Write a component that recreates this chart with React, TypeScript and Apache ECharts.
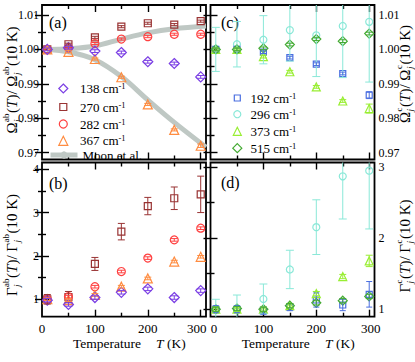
import React, { useEffect, useRef } from 'react';
import * as echarts from 'echarts';

const SERIF = 'Liberation Serif';

// ---------- axes / ticks ----------
const TEMPS = [10, 50, 100, 150, 200, 250, 300];
const X_LABELS = [0, 100, 200, 300];
const X_MAJOR = [100, 200, 300];
const X_MINOR = [50, 150, 250];
const OMEGA_LABELS = [0.97, 0.98, 0.99, 1.0, 1.01];
const OMEGA_MINOR = [0.975, 0.985, 0.995, 1.005];
const GAB_LABELS = [1, 2, 3, 4];
const GAB_MINOR = [1.5, 2.5, 3.5];
const GC_LABELS = [1, 2, 3];
const GC_MINOR = [1.5, 2.5];

// ---------- panel (a): Omega_ab(T)/Omega_ab(10K) ----------
const a138 = [1.0, 1.0005, 0.9995, 0.9991, 0.9964, 0.9959, 0.992];
const a270 = [1.0, 1.0015, 1.0035, 1.0066, 1.0076, 1.0072, 1.0082];
const a282 = [1.0, 1.0004, 1.0017, 1.003, 1.0037, 1.0044, 1.0044];
const a367 = [1.0, 0.9993, 0.9972, 0.9919, 0.984, 0.9766, 0.972];
const a138Err = [0.0004, 0.0004, 0.0004, 0.0004, 0.0004, 0.0004, 0.0004];
const a270Err = [0.0003, 0.0003, 0.0003, 0.0003, 0.0003, 0.0003, 0.0003];
const a282Err = [0.0003, 0.0003, 0.0003, 0.0003, 0.0003, 0.0003, 0.0003];
const a367Err = [0.0003, 0.0003, 0.0003, 0.0003, 0.0003, 0.0003, 0.0005];
const MOON_T = [10, 50, 100, 150, 200, 250, 310];
const moonUpper = [1.0, 1.0002, 1.001, 1.003, 1.0048, 1.006, 1.0068];
const moonLower = [1.0, 0.9993, 0.997, 0.9921, 0.9853, 0.9788, 0.9716];

// ---------- panel (b): Gamma_ab(T)/Gamma_ab(10K) ----------
const b138 = [0.98, 0.88, 1.04, 1.16, 1.24, 1.04, 1.2];
const b270 = [1.0, 1.05, 1.815, 2.56, 3.15, 3.33, 3.42];
const b282 = [1.0, 1.06, 1.29, 1.64, 1.95, 2.37, 2.64];
const b367 = [1.0, 0.98, 1.1, 1.29, 1.48, 1.87, 1.98];
const b138Err = [0.04, 0.04, 0.04, 0.04, 0.04, 0.04, 0.04];
const b270Err = [0.11, 0.13, 0.15, 0.19, 0.2, 0.26, 0.42];
const b282Err = [0.03, 0.03, 0.03, 0.03, 0.03, 0.03, 0.03];
const b367Err = [0.03, 0.03, 0.03, 0.03, 0.03, 0.03, 0.03];

// ---------- panel (c): Omega_c(T)/Omega_c(10K) ----------
const c192 = [1.0, 1.0, 0.9992, 0.9976, 0.9957, 0.993, 0.9867];
const c296 = [1.0, 1.0015, 1.0028, 1.0056, 1.0041, 1.0068, 1.008];
const c373 = [1.0, 1.0, 0.9979, 0.9935, 0.9891, 0.985, 0.9828];
const c515 = [1.0, 1.0, 1.0003, 1.0014, 1.003, 1.0024, 1.0046];
const c192Err = [0.0004, 0.0004, 0.0004, 0.0004, 0.0004, 0.0004, 0.001];
const c296Err = [0.0064, 0.0066, 0.007, 0.009, 0.012, 0.015, 0.0175];
const c373Err = [0.0004, 0.0004, 0.0004, 0.0004, 0.0004, 0.0004, 0.0013];
const c515Err = [0.0004, 0.0004, 0.0004, 0.0004, 0.0004, 0.0004, 0.0004];

// ---------- panel (d): Gamma_c(T)/Gamma_c(10K) ----------
const d192 = [1.0, 1.0, 0.98, 1.03, 1.13, 1.06, 1.21];
const d296 = [1.0, 1.01, 1.145, 1.56, 2.155, 2.87, 2.95];
const d373 = [1.0, 1.0, 1.0, 1.05, 1.22, 1.46, 1.68];
const d515 = [1.0, 1.01, 1.0, 1.05, 1.09, 1.12, 1.18];
const d192Err = [0.05, 0.05, 0.05, 0.05, 0.1, 0.08, 0.18];
const d296Err = [0.14, 0.19, 0.21, 0.27, 0.385, 0.6, 0.82];
const d373Err = [0.03, 0.03, 0.03, 0.03, 0.03, 0.03, 0.08];
const d515Err = [0.03, 0.03, 0.03, 0.03, 0.03, 0.03, 0.03];

const C138 = '#7b3fe4';
const C270 = '#993333';
const C282 = '#ff4040';
const C367 = '#ff8c40';
const CMOON = '#bfc8c4';
const C192 = '#4a6ee0';
const C296 = '#8ae8d8';
const C373 = '#99ee33';
const C515 = '#44aa33';

const GRIDS = [
  { left: 42, top: 5, width: 164, height: 154.5 },
  { left: 42, top: 162.5, width: 164, height: 154.2 },
  { left: 210.5, top: 5, width: 164, height: 154.5 },
  { left: 210.5, top: 162.5, width: 164, height: 154.2 },
];
const Y_RANGES = [
  [0.968, 1.0129],
  [0.598, 4.155],
  [0.968, 1.0129],
  [0.895, 3.065],
];

const tickLine = { color: '#000', width: 1.4 };

function xAxesFor(gi: number, labels: boolean, rightPanel: boolean) {
  const base = {
    type: 'value', gridIndex: gi, min: 0, max: 310,
    splitLine: { show: false }, axisLine: { show: false },
  };
  const major = { show: true, inside: true, length: 7, customValues: X_MAJOR, lineStyle: tickLine };
  const minor = { show: true, inside: true, length: 4, customValues: X_MINOR, lineStyle: tickLine };
  const fmt = (v: number) => {
    const s = String(Math.round(v));
    if (!rightPanel && s === '300') return `{l|${s}}`;
    if (rightPanel && s === '0') return `{r|${s}}`;
    if (rightPanel && s === '300') return `{r2|${s}}`;
    return `{n|${s}}`;
  };
  const rs = { fontFamily: SERIF, fontSize: 13, color: '#000' };
  return [
    {
      ...base, position: 'bottom', axisTick: major,
      axisLabel: {
        show: labels, customValues: X_LABELS, margin: 5, fontSize: 13,
        fontFamily: SERIF, color: '#000', formatter: fmt,
        rich: {
          n: rs,
          l: { ...rs, padding: [0, 8, 0, 0] },
          r: { ...rs, padding: [0, 0, 0, 7] },
          r2: { ...rs, padding: [0, 0, 0, 3] },
        },
      },
    },
    { ...base, position: 'bottom', axisTick: minor, axisLabel: { show: false } },
    { ...base, position: 'top', axisTick: major, axisLabel: { show: false } },
    { ...base, position: 'top', axisTick: minor, axisLabel: { show: false } },
  ];
}

function yAxesFor(gi: number, labelVals: number[], minorVals: number[], side: 'left' | 'right', fmt: (v: number) => string) {
  const [min, max] = Y_RANGES[gi];
  const base = {
    type: 'value', gridIndex: gi, min, max,
    splitLine: { show: false }, axisLine: { show: false },
  };
  const major = { show: true, inside: true, length: 7, customValues: labelVals, lineStyle: tickLine };
  const minor = { show: true, inside: true, length: 4, customValues: minorVals, lineStyle: tickLine };
  const lab = {
    show: true, customValues: labelVals, margin: side === 'left' ? 3 : 4, fontSize: 12,
    fontFamily: SERIF, color: '#000', formatter: fmt,
  };
  return [
    { ...base, position: 'left', axisTick: major, axisLabel: side === 'left' ? lab : { show: false } },
    { ...base, position: 'left', axisTick: minor, axisLabel: { show: false } },
    { ...base, position: 'right', axisTick: major, axisLabel: side === 'right' ? lab : { show: false } },
    { ...base, position: 'right', axisTick: minor, axisLabel: { show: false } },
  ];
}

function scatter(gi: number, name: string, vals: number[], color: string, symbol: string, size: number) {
  return {
    type: 'scatter', name, xAxisIndex: gi * 4, yAxisIndex: gi * 4,
    data: TEMPS.map((t, i) => [t, vals[i]]),
    symbol, symbolSize: size, silent: true, z: 4,
    itemStyle: { color: 'rgba(255,255,255,0)', borderColor: color, borderWidth: 1.2, opacity: 1 },
  };
}

function errorBars(gi: number, vals: number[], errs: number[], color: string, cap: number) {
  return {
    type: 'custom', xAxisIndex: gi * 4, yAxisIndex: gi * 4, clip: true, silent: true, z: 5,
    data: TEMPS.map((t, i) => [t, vals[i], errs[i]]),
    encode: { x: 0, y: 1 },
    renderItem: (_p: any, api: any) => {
      const x = api.value(0), y = api.value(1), e = api.value(2);
      const p1 = api.coord([x, y + e]);
      const p2 = api.coord([x, y - e]);
      const h = cap / 2;
      const style = { stroke: color, lineWidth: 1, fill: 'none' };
      return {
        type: 'group',
        children: [
          { type: 'line', shape: { x1: p1[0], y1: p1[1], x2: p2[0], y2: p2[1] }, style },
          { type: 'line', shape: { x1: p1[0] - h, y1: p1[1], x2: p1[0] + h, y2: p1[1] }, style },
          { type: 'line', shape: { x1: p2[0] - h, y1: p2[1], x2: p2[0] + h, y2: p2[1] }, style },
        ],
      };
    },
  };
}

function moonLine(vals: number[]) {
  return {
    type: 'line', name: 'Moon et al.', xAxisIndex: 0, yAxisIndex: 0,
    data: MOON_T.map((t, i) => [t, vals[i]]),
    smooth: 0.35, symbol: 'none', silent: true, z: 2,
    itemStyle: { color: CMOON },
    lineStyle: { color: CMOON, width: 5 },
  };
}

function legendItem(name: string, cx: number, cy: number, size: number, textStart: number) {
  const left = cx - size / 2;
  const pad = Math.max(0, textStart - (left + size + 5));
  return {
    show: true, data: [name], left, top: cy - size / 2, padding: 0,
    itemWidth: size, itemHeight: size, selectedMode: false,
    itemStyle: { borderWidth: 1.2 },
    formatter: (n: string) => `{n|${n} cm}{s|-1}`,
    textStyle: {
      color: '#000', fontFamily: SERIF, fontSize: 13,
      rich: {
        n: { fontFamily: SERIF, fontSize: 13, color: '#000', lineHeight: 14, padding: [0, 0, 0, pad] },
        s: { fontFamily: SERIF, fontSize: 8.5, color: '#000', lineHeight: 8, verticalAlign: 'top' },
      },
    },
  };
}

// ---------- text helpers ----------
let measureCtx: CanvasRenderingContext2D | null = null;
function measure(text: string, size: number, italic = false) {
  if (!measureCtx) measureCtx = document.createElement('canvas').getContext('2d');
  measureCtx!.font = `${italic ? 'italic ' : ''}${size}px ${SERIF}`;
  return measureCtx!.measureText(text).width;
}

type Piece = { t: string; it?: boolean } | { sup: string; sub: string };

function rotatedLabel(pieces: Piece[], cx: number, cy: number, size: number, script: number) {
  const kids: any[] = [];
  let x = 0;
  const txt = (t: string, px: number, py: number, fs: number, it: boolean) => ({
    type: 'text', x: px, y: py,
    style: {
      text: t, fontSize: fs, fontFamily: SERIF, fontStyle: it ? 'italic' : 'normal', fill: '#000',
      textAlign: 'left', align: 'left', textVerticalAlign: 'middle', verticalAlign: 'middle',
    },
  });
  for (const p of pieces) {
    if ('t' in p) {
      kids.push(txt(p.t, x, 0, size, !!p.it));
      x += measure(p.t, size, !!p.it);
    } else {
      kids.push(txt(p.sup, x + 0.5, -size * 0.42, script, false));
      kids.push(txt(p.sub, x + 0.5, size * 0.34, script, true));
      x += Math.max(measure(p.sup, script), measure(p.sub, script, true)) + 1;
    }
  }
  const off = -x / 2;
  kids.forEach((k) => (k.x += off));
  return { type: 'group', x: cx, y: cy, rotation: Math.PI / 2, children: kids };
}

function plainText(t: string, left: number, cy: number, fs: number, italic = false) {
  return {
    type: 'text', x: left, y: cy,
    style: {
      text: t, fontSize: fs, fontFamily: SERIF, fontStyle: italic ? 'italic' : 'normal', fill: '#000',
      textAlign: 'left', align: 'left', textVerticalAlign: 'middle', verticalAlign: 'middle',
    },
  };
}

function tempTitle(left: number, tLeft: number, cy: number) {
  return [
    plainText('Temperature', left, cy, 13.5),
    plainText('T', tLeft, cy, 13.5, true),
    plainText(' (K)', tLeft + measure('T', 13.5, true), cy, 13.5),
  ];
}

export default function App() {
  const ref = useRef<HTMLDivElement>(null);
  useEffect(() => {
    if (!ref.current) return;
    const chart = echarts.init(ref.current, null, { renderer: 'svg' });
    const f2 = (v: number) => v.toFixed(2);
    const f0 = (v: number) => String(Math.round(v));

    const xAxis = [
      ...xAxesFor(0, false, false), ...xAxesFor(1, true, false),
      ...xAxesFor(2, false, true), ...xAxesFor(3, true, true),
    ];
    const yAxis = [
      ...yAxesFor(0, OMEGA_LABELS, OMEGA_MINOR, 'left', f2),
      ...yAxesFor(1, GAB_LABELS, GAB_MINOR, 'left', f0),
      ...yAxesFor(2, OMEGA_LABELS, OMEGA_MINOR, 'right', f2),
      ...yAxesFor(3, GC_LABELS, GC_MINOR, 'right', f0),
    ];

    const series: any[] = [
      moonLine(moonUpper), moonLine(moonLower),
      // (a)
      scatter(0, '270', a270, C270, 'rect', 7), errorBars(0, a270, a270Err, C270, 7),
      scatter(0, '282', a282, C282, 'circle', 8), errorBars(0, a282, a282Err, C282, 7),
      scatter(0, '367', a367, C367, 'triangle', 9), errorBars(0, a367, a367Err, C367, 7),
      scatter(0, '138', a138, C138, 'diamond', 10), errorBars(0, a138, a138Err, C138, 8),
      // (b)
      scatter(1, 'b270', b270, C270, 'rect', 7), errorBars(1, b270, b270Err, C270, 7),
      scatter(1, 'b282', b282, C282, 'circle', 8), errorBars(1, b282, b282Err, C282, 7),
      scatter(1, 'b367', b367, C367, 'triangle', 9), errorBars(1, b367, b367Err, C367, 7),
      scatter(1, 'b138', b138, C138, 'diamond', 10), errorBars(1, b138, b138Err, C138, 8),
      // (c)
      scatter(2, '296', c296, C296, 'circle', 7), errorBars(2, c296, c296Err, C296, 8),
      scatter(2, '192', c192, C192, 'rect', 6), errorBars(2, c192, c192Err, C192, 6),
      scatter(2, '373', c373, C373, 'triangle', 8), errorBars(2, c373, c373Err, C373, 7),
      scatter(2, '515', c515, C515, 'diamond', 9), errorBars(2, c515, c515Err, C515, 7),
      // (d)
      scatter(3, 'd296', d296, C296, 'circle', 7), errorBars(3, d296, d296Err, C296, 8),
      scatter(3, 'd192', d192, C192, 'rect', 6), errorBars(3, d192, d192Err, C192, 6),
      scatter(3, 'd373', d373, C373, 'triangle', 8), errorBars(3, d373, d373Err, C373, 7),
      scatter(3, 'd515', d515, C515, 'diamond', 9), errorBars(3, d515, d515Err, C515, 7),
    ];

    const legend: any[] = [
      legendItem('138', 62.7, 86, 9, 79.3),
      legendItem('270', 62.7, 103.5, 7, 79.3),
      legendItem('282', 62.7, 121, 8, 79.3),
      legendItem('367', 62.7, 138.3, 9, 79.3),
      {
        show: true, data: ['Moon et al.'], left: 48, top: 153 - 4.5, padding: 0,
        itemWidth: 27, itemHeight: 9, selectedMode: false,
        lineStyle: { width: 5, color: CMOON },
        textStyle: { color: '#000', fontFamily: SERIF, fontSize: 13, lineHeight: 13 },
      },
      legendItem('192', 236.7, 94, 6, 250),
      legendItem('296', 236.7, 110.7, 7, 250),
      legendItem('373', 236.7, 128.3, 8, 250),
      legendItem('515', 236.7, 145.7, 9, 250),
    ];

    const graphic: any[] = [
      plainText('(a)', 49, 22, 16),
      plainText('(b)', 49, 183, 16),
      plainText('(c)', 221, 22, 16),
      plainText('(d)', 221, 182, 16),
      ...tempTitle(73, 156, 343),
      ...tempTitle(241.7, 325, 343),
      rotatedLabel(
        [{ t: 'Ω' }, { sup: 'ab', sub: 'j' }, { t: '(' }, { t: 'T', it: true }, { t: ')/ Ω' }, { sup: 'ab', sub: 'j' }, { t: '(10 K)' }],
        12, 80, 15, 9,
      ),
      rotatedLabel(
        [{ t: 'Γ' }, { sup: 'ab', sub: 'j' }, { t: '(' }, { t: 'T', it: true }, { t: ')/ Γ' }, { sup: 'ab', sub: 'j' }, { t: '(10 K)' }],
        12, 245, 15, 9,
      ),
      rotatedLabel(
        [{ t: 'Ω' }, { sup: 'c', sub: 'j' }, { t: '(' }, { t: 'T', it: true }, { t: ')/ Ω' }, { sup: 'c', sub: 'j' }, { t: '(10 K)' }],
        405, 74, 15, 9,
      ),
      rotatedLabel(
        [{ t: 'Γ' }, { sup: 'c', sub: 'j' }, { t: '(' }, { t: 'T', it: true }, { t: ')/ Γ' }, { sup: 'c', sub: 'j' }, { t: '(10 K)' }],
        405, 246, 15, 9,
      ),
    ];

    chart.setOption({
      animation: false,
      backgroundColor: '#fff',
      textStyle: { fontFamily: SERIF },
      grid: GRIDS.map((g) => ({
        ...g, show: true, borderColor: '#000', borderWidth: 1.8,
        backgroundColor: 'rgba(0,0,0,0)', containLabel: false, outerBoundsMode: 'none',
      })),
      xAxis, yAxis, series, legend, graphic,
    });
    return () => chart.dispose();
  }, []);
  return (
    <div
      ref={ref}
      style={{ position: 'fixed', left: 0, top: 0, width: 415, height: 362, background: '#fff' }}
    />
  );
}
